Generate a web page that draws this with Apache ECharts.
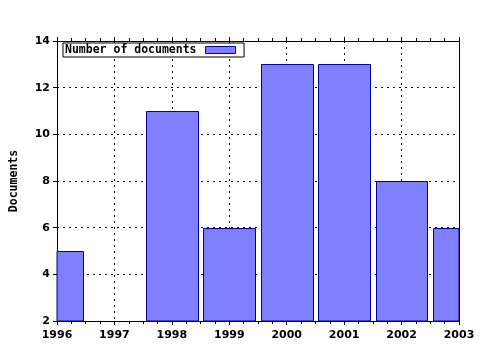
<!DOCTYPE html>
<html>
<head>
<meta charset="utf-8">
<script src="https://cdn.jsdelivr.net/npm/echarts@6/dist/echarts.min.js"></script>
<style>html,body{margin:0;padding:0;background:#fff;}#c{width:480px;height:350px;}</style>
</head>
<body>
<div id="c"></div>
<script>
const years = [1996, 1997, 1998, 1999, 2000, 2001, 2002, 2003];
const documents = [5, 0, 11, 6, 13, 13, 8, 6];
const seriesName = 'Number of documents';
const yAxisName = 'Documents';
const yTicks = [2, 4, 6, 8, 10, 12, 14];

const xMin = years[0], xMax = years[years.length - 1];
const yMin = yTicks[0], yMax = yTicks[yTicks.length - 1];
const barFill = '#8080ff', barStroke = '#0000a0';
const halfBar = 0.45;

const chart = echarts.init(document.getElementById('c'), null, {renderer: 'canvas'});
const labelFont = {fontFamily: 'DejaVu Sans', fontWeight: 'bold', fontSize: 11, color: '#000'};
const dotted = {color: '#000', width: 1, type: [2, 4]};
const lineStyle = {color: '#000', width: 1};

function tickAxis(position, interval, len, withLine) {
  return {
    type: 'value', min: xMin, max: xMax, interval: interval, position: position,
    axisLine: {show: withLine, onZero: false, lineStyle: lineStyle},
    axisTick: {show: true, length: len, lineStyle: {color: '#000'}},
    axisLabel: {show: false},
    splitLine: {show: false}
  };
}

chart.setOption({
  animation: false,
  backgroundColor: '#fff',
  grid: {left: 57, right: 21, top: 41, bottom: 29, containLabel: false},
  legend: {
    left: 63, top: 43,
    orient: 'horizontal',
    align: 'right',
    padding: [1, 8, 1, 2],
    itemGap: 8,
    itemWidth: 30, itemHeight: 7,
    icon: 'rect',
    borderColor: '#000', borderWidth: 1,
    backgroundColor: '#fff',
    textStyle: {fontFamily: 'DejaVu Sans Mono', fontWeight: 'bold', fontSize: 11.5, color: '#000', padding: [0, 4, 0, 0]},
    itemStyle: {color: barFill, borderColor: barStroke, borderWidth: 1},
    data: [seriesName]
  },
  xAxis: [{
    type: 'value', min: xMin, max: xMax, interval: 1,
    position: 'bottom',
    axisLine: {show: true, onZero: false, lineStyle: lineStyle},
    axisTick: {show: true, length: 4, lineStyle: {color: '#000'}},
    axisLabel: Object.assign({margin: 9, formatter: v => String(v)}, labelFont),
    splitLine: {show: true, lineStyle: dotted}
  },
  tickAxis('top', 1, 4, true),
  tickAxis('bottom', 0.25, 3, false),
  tickAxis('top', 0.25, 3, false)
  ],
  yAxis: [{
    type: 'value', min: yMin, max: yMax, interval: 2,
    name: yAxisName, nameLocation: 'middle', nameGap: 37, nameRotate: 90,
    nameTextStyle: {fontFamily: 'DejaVu Sans Mono', fontWeight: 'bold', fontSize: 11.5, color: '#000'},
    axisLine: {show: true, onZero: false, lineStyle: lineStyle},
    axisTick: {show: true, length: 4, lineStyle: {color: '#000'}},
    axisLabel: Object.assign({margin: 7}, labelFont),
    splitLine: {show: true, lineStyle: dotted}
  }, {
    type: 'value', min: yMin, max: yMax, interval: 2,
    position: 'right',
    axisLine: {show: true, onZero: false, lineStyle: lineStyle},
    axisTick: {show: false},
    axisLabel: {show: false},
    splitLine: {show: false}
  }],
  series: [{
    name: seriesName,
    type: 'custom',
    xAxisIndex: 0, yAxisIndex: 0,
    z: 5,
    itemStyle: {color: barFill, borderColor: barStroke, borderWidth: 1},
    encode: {x: 0, y: 1},
    renderItem: function (params, api) {
      const x = api.value(0), v = api.value(1);
      if (!(v > yMin)) return null;
      const p0 = api.coord([x - halfBar, yMin]);
      const p1 = api.coord([x + halfBar, v]);
      const rect = {
        x: Math.round(p0[0]) + 0.5, y: Math.round(p1[1]) + 0.5,
        width: Math.round(p1[0]) - Math.round(p0[0]),
        height: Math.round(p0[1]) - Math.round(p1[1])
      };
      const cs = params.coordSys;
      const clipped = echarts.graphic.clipRectByRect(rect, {x: cs.x, y: cs.y, width: cs.width, height: cs.height});
      if (!clipped) return null;
      return {
        type: 'rect',
        shape: clipped,
        style: {fill: barFill, stroke: barStroke, lineWidth: 1}
      };
    },
    data: years.map((y, i) => [y, documents[i]])
  }]
});
</script>
</body>
</html>
